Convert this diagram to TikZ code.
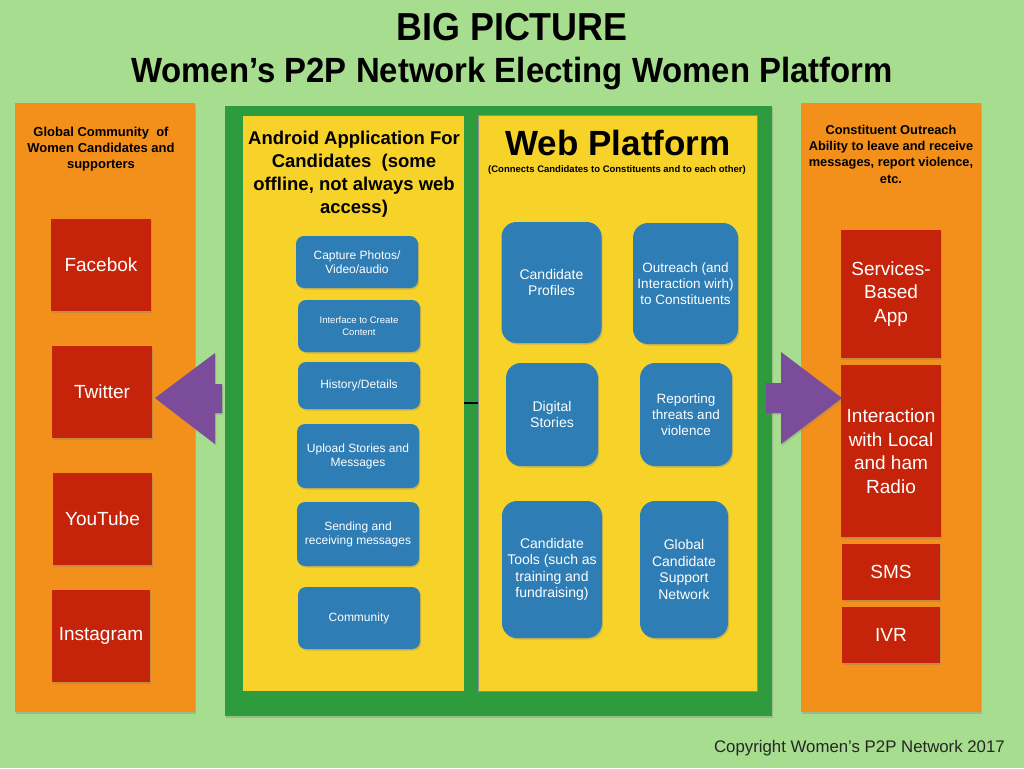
\documentclass[tikz,border=0pt]{standalone}
\usepackage{fontspec}
\setmainfont{Liberation Sans}
\newfontfamily\titlefont[FakeStretch=0.92]{Liberation Sans}
\newfontfamily\subtitlefont[FakeStretch=0.94]{Liberation Sans}
\usetikzlibrary{shadows}
\definecolor{bggreen}{HTML}{A7DD8E}
\definecolor{corange}{HTML}{F3901C}
\definecolor{cred}{HTML}{C6240A}
\definecolor{cgreen}{HTML}{2E9B3F}
\definecolor{cyellow}{HTML}{F7D32A}
\definecolor{cblue}{HTML}{2E7DB4}
\definecolor{cpurple}{HTML}{7A4C99}
\definecolor{cgray}{HTML}{8C8C8C}
\begin{document}
\begin{tikzpicture}[x=1pt,y=-1pt,
  sz/.style 2 args={minimum width=#1, minimum height=#2},
  shad/.style={drop shadow={shadow xshift=1.2pt,shadow yshift=-1.5pt,opacity=0.35}},
  panel/.style={inner sep=0pt, shad},
  redbox/.style={fill=cred, text=white, inner sep=0pt, align=center, shad,
    font=\fontsize{19}{23.5}\selectfont},
  abox/.style={fill=cblue, text=white, inner sep=0pt, align=center, rounded corners=8pt, shad,
    font=\fontsize{12}{14}\selectfont},
  wbox/.style={fill=cblue, text=white, inner sep=0pt, align=center, rounded corners=15pt, shad,
    font=\fontsize{14}{16.5}\selectfont},
  hdr/.style={align=center, inner sep=0pt, text=black},
  bigarrow/.style={fill=cpurple, draw=none, shad}
]
\fill[bggreen] (0,0) rectangle (1024,768);
\useasboundingbox (0,0) rectangle (1024,768);

% titles
\node[hdr, anchor=base, font=\titlefont\bfseries\fontsize{39}{42}\selectfont] (title) at (512,41) {BIG PICTURE};
\node[hdr, anchor=base, font=\subtitlefont\bfseries\fontsize{35}{38}\selectfont] (subtitle) at (512,82) {Women’s P2P Network Electing Women Platform};

% side panels
\node[panel, fill=corange, sz={180pt}{609pt}] (left) at (105,407.5) {};
\node[panel, fill=corange, sz={180pt}{609pt}] (right) at (891,407.5) {};

% central green panel
\node[panel, fill=cgreen, sz={547pt}{610pt}] (green) at (498.5,411) {};
\node[inner sep=0pt, fill=cyellow, sz={221pt}{575pt}] (android) at (353.5,403) {};
\node[inner sep=0pt, fill=cyellow, draw=cgray, line width=1.2pt, sz={279pt}{576pt}] (web) at (618,403.5) {};
\draw[line width=1.5pt] (android.east) -- (android.east -| web.west);

% block arrows
\coordinate (ltip) at (155,398);
\coordinate (rtip) at (842,398);
\fill[bigarrow] (ltip) -- ++(60,-45) -- ++(0,31) -- ++(7,0) -- ++(0,29) -- ++(-7,0) -- ++(0,31) -- cycle;
\fill[bigarrow] (rtip) -- ++(-61,-46) -- ++(0,31) -- ++(-15,0) -- ++(0,30) -- ++(15,0) -- ++(0,31) -- cycle;

% headers
\node[hdr, font=\bfseries\fontsize{13}{16}\selectfont] (lhdr) at (101,149) {Global Community\ \ of\\Women Candidates and\\supporters};
\node[hdr, font=\bfseries\fontsize{12.8}{16.3}\selectfont] (rhdr) at (891,154) {Constituent Outreach\\Ability to leave and receive\\messages, report violence,\\etc.};
\node[hdr, font=\bfseries\fontsize{18.5}{23}\selectfont] (ahdr) at (354,174) {Android Application For\\Candidates\ \ (some\\offline, not always web\\access)};
\node[hdr, anchor=base, font=\bfseries\fontsize{35}{38}\selectfont] (whdr) at (618,155) {Web Platform};
\node[hdr, anchor=base, font=\bfseries\fontsize{9.5}{11}\selectfont] (wsub) at (617,172) {(Connects Candidates to Constituents and to each other)};

% left red boxes
\node[redbox, sz={100pt}{92pt}] (fb) at (101,265) {Facebok};
\node[redbox, sz={100pt}{92pt}] (tw) at (102,392) {Twitter};
\node[redbox, sz={99pt}{92pt}] (yt) at (102.5,519) {YouTube};
\node[redbox, sz={98pt}{92pt}] (ig) at (101,636) {Instagram};

% right red boxes
\node[redbox, sz={100pt}{128pt}] (sba) at (891,294) {Services-\\Based\\App};
\node[redbox, sz={100pt}{172pt}] (inter) at (891,451) {Interaction\\with Local\\and ham\\Radio};
\node[redbox, sz={98pt}{56pt}] (sms) at (891,572) {SMS};
\node[redbox, sz={98pt}{56pt}] (ivr) at (891,635) {IVR};

% android boxes
\node[abox, sz={122pt}{52pt}] (cap) at (357,262) {Capture Photos/\\Video/audio};
\node[abox, sz={122pt}{52pt}, font=\fontsize{9.5}{11.5}\selectfont] (iface) at (359,326) {Interface to Create\\Content};
\node[abox, sz={122pt}{47pt}] (hist) at (359,385.5) {History/Details};
\node[abox, sz={122pt}{64pt}] (upl) at (358,456) {Upload Stories and\\Messages};
\node[abox, sz={122pt}{64pt}] (send) at (358,534) {Sending and\\receiving messages};
\node[abox, sz={122pt}{62pt}] (comm) at (359,618) {Community};

% web boxes
\node[wbox, sz={100pt}{121pt}] (cp) at (551.5,282.5) {Candidate\\Profiles};
\node[wbox, sz={105pt}{121pt}, font=\fontsize{13.5}{16}\selectfont] (out) at (685.5,283.5) {Outreach (and\\Interaction wirh)\\to Constituents};
\node[wbox, sz={92pt}{103pt}] (ds) at (552,414.5) {Digital\\Stories};
\node[wbox, sz={92pt}{103pt}, font=\fontsize{13.5}{16}\selectfont] (rep) at (686,414.5) {Reporting\\threats and\\violence};
\node[wbox, sz={100pt}{137pt}] (ct) at (552,569.5) {Candidate\\Tools (such as\\training and\\fundraising)};
\node[wbox, sz={88pt}{137pt}] (gcs) at (684,569.5) {Global\\Candidate\\Support\\Network};

% copyright
\node[hdr, anchor=base east, font=\fontsize{16.8}{18}\selectfont, text=black!85] (copy) at (1005,752) {Copyright Women’s P2P Network 2017};
\end{tikzpicture}
\end{document}
